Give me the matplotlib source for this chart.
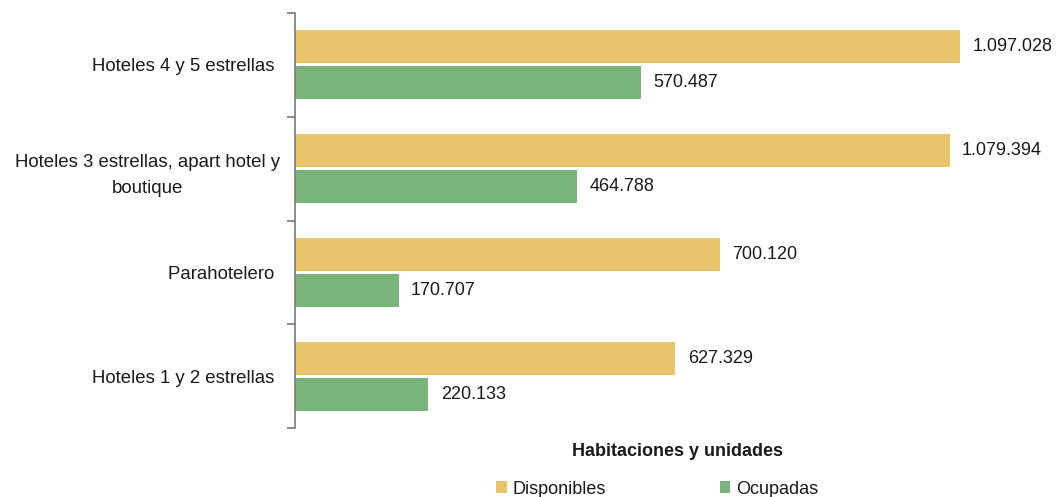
import matplotlib.pyplot as plt
import numpy as np

plt.rcParams['font.family'] = ['Liberation Sans', 'DejaVu Sans']

categorias = ["Hoteles 4 y 5 estrellas ",
              "Hoteles 3 estrellas, apart hotel y\nboutique",
              "Parahotelero ",
              "Hoteles 1 y 2 estrellas "]
disponibles = [1097028, 1079394, 700120, 627329]
ocupadas = [570487, 464788, 170707, 220133]

amarillo = "#E8C56A"
verde = "#79B57B"
texto = "#1a1a1a"


def fmt(v):
    # miles con punto
    return f"{v:,}".replace(",", ".")


fig = plt.figure(figsize=(10.62, 4.97), dpi=100)
ax = fig.add_axes([295 / 1062, 1 - 428 / 497, 755 / 1062, 415 / 497])

y = np.arange(len(categorias))
h = 0.317
off = 0.173
ax.barh(y - off, disponibles, height=h, color=amarillo, label="Disponibles")
ax.barh(y + off, ocupadas, height=h, color=verde, label="Ocupadas")

for i in range(len(categorias)):
    ax.annotate(fmt(disponibles[i]), (disponibles[i], y[i] - off), xytext=(9, 0),
                textcoords="offset points", va="center", ha="left", fontsize=13, color=texto)
    ax.annotate(fmt(ocupadas[i]), (ocupadas[i], y[i] + off), xytext=(9, 0),
                textcoords="offset points", va="center", ha="left", fontsize=13, color=texto)

ax.set_xlim(0, 1245000)
ax.set_ylim(len(categorias) - 0.5, -0.5)

ax.set_yticks(y)
ax.set_yticklabels(categorias, fontsize=13.4, color=texto, multialignment="center",
                   linespacing=1.75)
ax.set_yticks(np.arange(-0.5, len(categorias)), minor=True)
ax.tick_params(axis="y", which="major", length=0, pad=11)
ax.tick_params(axis="y", which="minor", length=6, width=1.2, color="#7a7a7a")

ax.xaxis.set_visible(False)
for s in ["top", "right", "bottom"]:
    ax.spines[s].set_visible(False)
ax.spines["left"].set_color("#7a7a7a")
ax.spines["left"].set_linewidth(1.2)

fig.text(678 / 1062, 1 - 452 / 497, "Habitaciones y unidades", ha="center", va="center",
         fontsize=13, fontweight="bold", color=texto)
fig.legend(loc="center", bbox_to_anchor=(657 / 1062, 1 - 489 / 497), ncol=2, frameon=False,
           fontsize=13, handlelength=0.6, handleheight=0.6, handletextpad=0.3,
           columnspacing=6.3, labelcolor=texto, borderaxespad=0, borderpad=0)

fig.savefig("out.png", dpi=100)
